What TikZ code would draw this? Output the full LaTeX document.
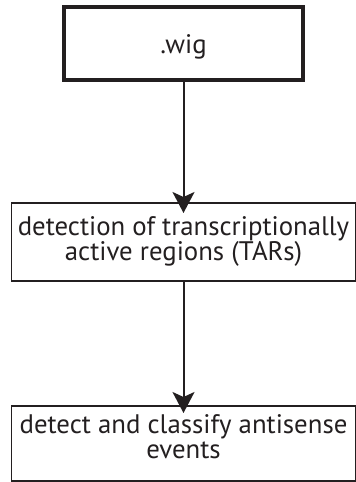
\documentclass[tikz,border=0pt]{standalone}
\usepackage{fontspec}
\setmainfont{PT Sans}
\usetikzlibrary{arrows.meta}
\definecolor{ink}{HTML}{231F20}
\tikzset{
  x=1pt, y=1pt,
  boxline/.style={draw=ink, line width=1.6pt},
  txt/.style={text=ink, align=center, font=\fontsize{26.8}{25}\selectfont, inner sep=0pt, anchor=base},
  flow/.style={draw=ink, line width=2pt, -{Stealth[length=21pt, width=22pt, inset=5pt]}}
}
\begin{document}
\begin{tikzpicture}
\useasboundingbox (0,0) rectangle (356,-482);
% boxes
\draw[draw=ink, line width=3.5pt] (64,-7) rectangle (303,-80);
\draw[boxline] (11.5,-203) rectangle (356,-281);
\draw[boxline] (11.5,-406) rectangle (356,-481);
% anchors for the connectors
\coordinate (a) at (183.5,-80);
\coordinate (b) at (183.5,-213);
\coordinate (c) at (183.5,-281);
\coordinate (d) at (183.5,-413);
% labels (placed on the baseline of their last line)
\node[txt] (wig) at (183.5,-53) {.wig};
\node[txt] (tar) at (183.5,-260) {detection of transcriptionally\\active regions (TARs)};
\node[txt] (anti) at (183.5,-458) {detect and classify antisense\\events};
% connectors
\draw[flow] (a) -- (b);
\draw[flow] (c) -- (d);
\end{tikzpicture}
\end{document}
